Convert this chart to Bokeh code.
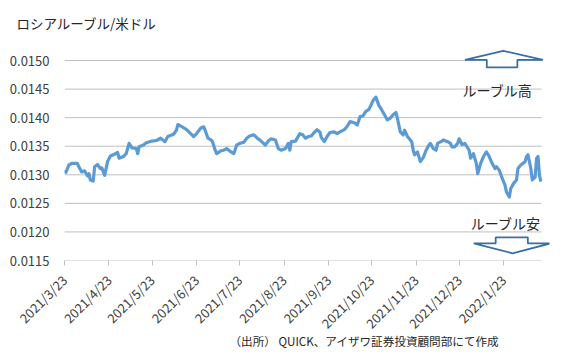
import pandas as pd
from bokeh.plotting import figure
from bokeh.models import (Range1d, FixedTicker, Title, Label, NumeralTickFormatter,
                          ColumnDataSource)
from bokeh.embed import file_html
from bokeh.resources import INLINE

# ---- data ----
start_date = "2021-03-23"
days = [0, 1, 3, 5, 9, 10, 12, 14, 16, 17, 18, 20, 21, 23, 25, 26, 28, 30, 32, 34,
        37, 38, 41, 43, 45, 47, 50, 51, 52, 55, 57, 61, 64, 67, 70, 72, 76, 78, 79, 82,
        84, 86, 90, 92, 95, 97, 98, 100, 102, 103, 105, 106, 109, 111, 113, 115, 118, 120, 122, 125,
        127, 129, 132, 134, 137, 140, 142, 144, 147, 149, 151, 154, 156, 157, 158, 161, 164, 166,
        168, 170, 172, 174, 176, 178, 179, 181, 183, 185, 188, 190, 192, 195, 197, 199, 202, 204,
        206, 208, 210, 212, 214, 215, 217, 219, 221, 223, 225, 227, 229, 231, 232, 234, 236, 237,
        239, 242, 243, 244, 246, 248, 250,
        252, 254, 255, 257, 259, 260, 263, 264, 267, 269, 270, 272, 274, 275, 277, 279, 282, 283,
        285, 287, 288, 290, 292, 294, 296, 298, 300, 301, 303, 305, 307, 308, 310, 311, 313, 315,
        316, 318, 321, 322, 323, 325, 326, 328, 329, 330, 331, 332]
rub_usd = [0.01308, 0.01304, 0.01317, 0.01320, 0.01320, 0.01314, 0.01305, 0.01307, 0.01298, 0.01302,
           0.01291, 0.01289, 0.01314, 0.01318, 0.01311, 0.01312, 0.01299, 0.01323, 0.01333, 0.01335,
           0.01339, 0.01329, 0.01332, 0.01337, 0.01355, 0.01347, 0.01346, 0.01337, 0.01349, 0.01352,
           0.01356, 0.01359, 0.01360, 0.01364, 0.01358, 0.01367, 0.01371, 0.01378, 0.01388, 0.01384,
           0.01381, 0.01377, 0.01367, 0.01372, 0.01382, 0.01384, 0.01378, 0.01364, 0.01361, 0.01359,
           0.01343, 0.01337, 0.01342, 0.01343, 0.01346, 0.01342, 0.01337, 0.01352, 0.01355, 0.01357,
           0.01364, 0.01368, 0.01370, 0.01365, 0.01359, 0.01352, 0.01359, 0.01363, 0.01361, 0.01346,
           0.01343, 0.01346, 0.01355, 0.01343, 0.01358, 0.01359, 0.01372, 0.01370,
           0.01364, 0.01367, 0.01368, 0.01374, 0.01379, 0.01375, 0.01365, 0.01358, 0.01367, 0.01374,
           0.01375, 0.01372, 0.01375, 0.01379, 0.01385, 0.01393, 0.01391, 0.01387,
           0.01402, 0.01403, 0.01411, 0.01414, 0.01424, 0.01430, 0.01436, 0.01422, 0.01414, 0.01405,
           0.01396, 0.01399, 0.01405, 0.01409, 0.01399, 0.01375, 0.01370, 0.01378,
           0.01367, 0.01358, 0.01343, 0.01335, 0.01340, 0.01323, 0.01330,
           0.01343, 0.01352, 0.01355, 0.01346, 0.01343, 0.01355, 0.01359, 0.01361, 0.01358, 0.01355,
           0.01349, 0.01349, 0.01355, 0.01363, 0.01353, 0.01355, 0.01343, 0.01329,
           0.01337, 0.01320, 0.01302, 0.01320, 0.01332, 0.01340, 0.01332, 0.01320, 0.01311, 0.01314,
           0.01308, 0.01294, 0.01282, 0.01270, 0.01261, 0.01276, 0.01285, 0.01291,
           0.01311, 0.01317, 0.01323, 0.01332, 0.01335, 0.01311, 0.01291, 0.01296, 0.01329, 0.01332,
           0.01299, 0.01288]
tick_labels = ["2021/3/23", "2021/4/23", "2021/5/23", "2021/6/23", "2021/7/23", "2021/8/23",
               "2021/9/23", "2021/10/23", "2021/11/23", "2021/12/23", "2022/1/23"]
y_ticks = [0.0115, 0.0120, 0.0125, 0.0130, 0.0135, 0.0140, 0.0145, 0.0150]

title_text = "ロシアルーブル/米ドル"
source_text = "（出所） QUICK、アイザワ証券投資顧問部にて作成"
up_text = "ルーブル高"
down_text = "ルーブル安"

# ---- derived ----
t0 = pd.Timestamp(start_date)
tick_days = [int((pd.to_datetime(l) - t0).days) for l in tick_labels]
x_start, x_end = 0, 332.5
src = ColumnDataSource(dict(day=days, val=rub_usd))

FONT = "Noto Sans CJK JP"
GRID = "#bfbfbf"
TXT = "#404040"

p = figure(frame_width=485, frame_height=213, output_backend="svg", toolbar_location=None,
           x_range=Range1d(x_start, 338), y_range=Range1d(y_ticks[0], 0.015228),
           min_border_left=64, min_border_right=4, min_border_top=46, min_border_bottom=98,
           background_fill_color="white", border_fill_color="white")
p.outline_line_color = None
p.xgrid.grid_line_color = None
p.ygrid.grid_line_color = None

# horizontal gridlines (only across the data span)
p.segment(x0=[x_start] * len(y_ticks), x1=[x_end] * len(y_ticks), y0=y_ticks, y1=y_ticks,
          line_color=GRID, line_width=1)

p.line("day", "val", source=src, line_color="#5b9bd5", line_width=3.2, line_join="round")

# axes
p.xaxis.ticker = FixedTicker(ticks=tick_days)
p.xaxis.major_label_overrides = {d: l for d, l in zip(tick_days, tick_labels)}
p.xaxis.major_label_orientation = 0.785398
p.xaxis.axis_line_color = None
p.xaxis.major_tick_line_color = GRID
p.xaxis.major_tick_out = 5
p.xaxis.major_tick_in = 0
p.xaxis.minor_tick_line_color = None
p.xaxis.major_label_standoff = 12
p.xaxis.major_label_text_font = FONT
p.xaxis.major_label_text_font_size = "13px"
p.xaxis.major_label_text_color = TXT

p.yaxis.ticker = FixedTicker(ticks=y_ticks)
p.yaxis.formatter = NumeralTickFormatter(format="0.0000")
p.yaxis.axis_line_color = None
p.yaxis.major_tick_line_color = None
p.yaxis.minor_tick_line_color = None
p.yaxis.major_tick_out = 0
p.yaxis.major_tick_in = 0
p.yaxis.major_label_standoff = 15
p.yaxis.major_label_text_font = FONT
p.yaxis.major_label_text_font_size = "13px"
p.yaxis.major_label_text_color = TXT

# title and source note
p.title = Title(text=title_text, align="left", offset=-48, standoff=25, vertical_align="top",
                text_font=FONT, text_font_size="13.5px", text_font_style="normal",
                text_color="#262626")
p.add_layout(Title(text=source_text, align="left", offset=165, standoff=-18,
                   vertical_align="top",
                   text_font=FONT, text_font_size="11.6px", text_font_style="normal",
                   text_color="#262626"), "below")

# arrows (decorative block arrows)
ARROW_LINE = "#3a6fa5"
p.patch(x=[305.8, 333.5, 315.6, 315.6, 294.3, 294.3, 279.1],
        y=[0.015170, 0.015012, 0.015012, 0.014880, 0.014880, 0.015012, 0.015012],
        fill_color="white", line_color=ARROW_LINE, line_width=1.8)
p.patch(x=[312.2, 338.9, 322.9, 322.9, 300.5, 300.5, 285.2],
        y=[0.011626, 0.011801, 0.011801, 0.011906, 0.011906, 0.011801, 0.011801],
        fill_color="white", line_color=ARROW_LINE, line_width=1.8)

p.add_layout(Label(x=301.8, y=0.014491, text=up_text, text_align="center",
                   text_baseline="middle", text_font=FONT, text_font_size="14px",
                   text_color="#262626"))
p.add_layout(Label(x=307.5, y=0.012157, text=down_text, text_align="center",
                   text_baseline="middle", text_font=FONT, text_font_size="14px",
                   text_color="#262626"))

open("out.html", "w").write(file_html(p, INLINE))
